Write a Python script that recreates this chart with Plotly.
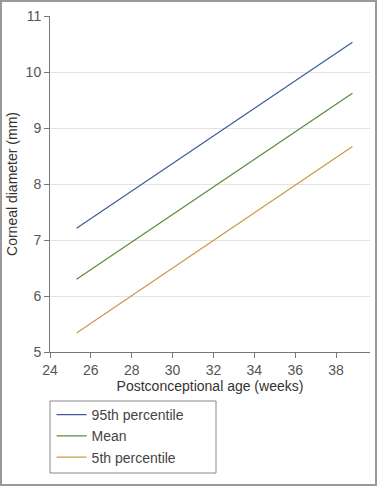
import plotly.graph_objects as go

ages = [25.3, 38.8]
p95 = [7.21, 10.53]
mean = [6.30, 9.62]
p5 = [5.34, 8.67]
series_names = ["95th percentile", "Mean", "5th percentile"]
series_colors = ["#3d5a99", "#5b8a3a", "#c99a4a"]
x_ticks = [24, 26, 28, 30, 32, 34, 36, 38]
y_ticks = [5, 6, 7, 8, 9, 10, 11]

W, H = 377, 487
L, R, T, B = 50, 7, 16, 135
pw, ph = W - L - R, H - T - B

fig = go.Figure()
for name, vals, col in zip(series_names, [p95, mean, p5], series_colors):
    fig.add_trace(go.Scatter(x=ages, y=vals, mode="lines", name=name,
                             line=dict(color=col, width=1.2)))

font = "Liberation Sans, Arial, sans-serif"
fig.update_layout(
    width=W, height=H,
    margin=dict(l=L, r=R, t=T, b=B, autoexpand=False),
    paper_bgcolor="white", plot_bgcolor="white",
    font=dict(family=font, size=14, color="#444"),
    showlegend=True,
    legend=dict(x=0.005, y=-0.14, xanchor="left", yanchor="top",
                bgcolor="rgba(0,0,0,0)", borderwidth=0,
                font=dict(size=14, color="#444"), itemwidth=30,
                tracegroupgap=0),
    xaxis=dict(range=[24, 39.66], tickvals=x_ticks, showgrid=False,
               showline=True, linecolor="#777", linewidth=1,
               ticks="outside", ticklen=5, tickcolor="#777",
               tickfont=dict(size=14, color="#555"),
               title=dict(text="Postconceptional age (weeks)", standoff=4,
                          font=dict(size=14, color="#333")),
               zeroline=False, automargin=False),
    yaxis=dict(range=[5, 11], tickvals=y_ticks, showgrid=True,
               gridcolor="#e3e3e3", gridwidth=1,
               showline=True, linecolor="#777", linewidth=1,
               ticks="outside", ticklen=5, tickcolor="#777",
               tickfont=dict(size=14, color="#555"),
               title=dict(text="Corneal diameter (mm)", standoff=4,
                          font=dict(size=14, color="#333")),
               zeroline=False, automargin=False),
)

# legend box
fig.add_shape(type="rect", xref="paper", yref="paper",
              x0=0, x1=166 / pw, y0=(352 - 401) / ph, y1=(352 - 473) / ph,
              line=dict(color="#888", width=1), fillcolor="rgba(0,0,0,0)")
# outer figure border
fig.add_shape(type="rect", xref="paper", yref="paper",
              x0=(1 - L) / pw, x1=(W - 1 - L) / pw,
              y0=(352 - 1) / ph, y1=(352 - (H - 2)) / ph,
              line=dict(color="#999", width=2), fillcolor="rgba(0,0,0,0)")

fig.write_html("out.html", config={"displayModeBar": False},
               post_script="document.body.style.margin='0';document.body.style.overflow='hidden';")
